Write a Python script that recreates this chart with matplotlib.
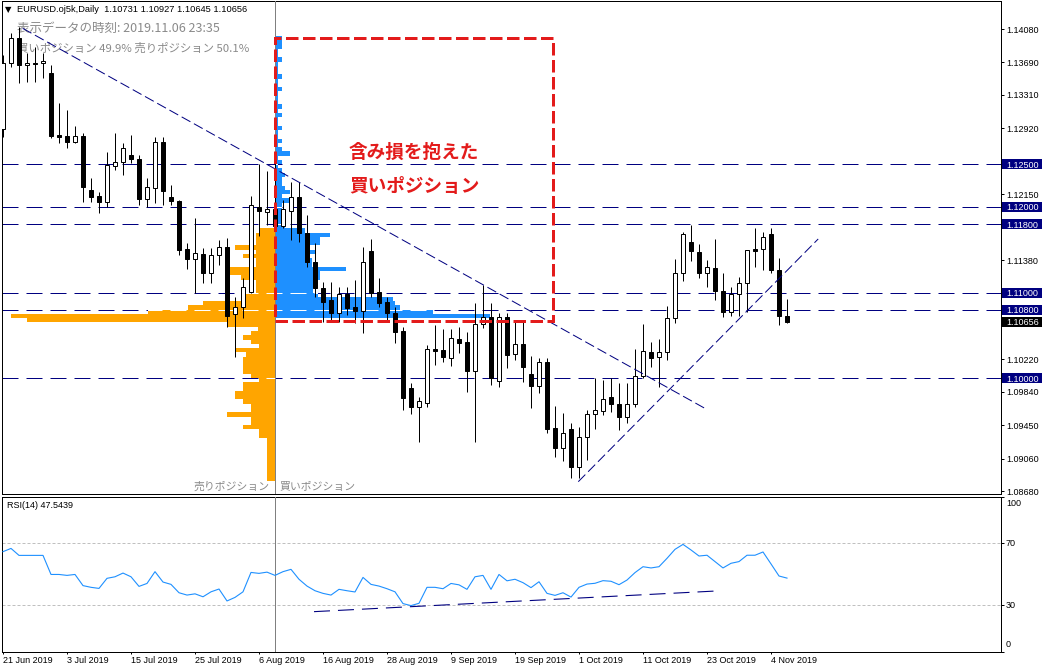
import numpy as np
import matplotlib
matplotlib.use("Agg")
import matplotlib.pyplot as plt
from matplotlib.patches import Rectangle
from matplotlib import transforms

plt.rcParams["font.family"] = ["Liberation Sans", "DejaVu Sans"]
plt.rcParams["lines.scale_dashes"] = False
plt.rcParams["axes.linewidth"] = 0.72

JP = ["Noto Sans CJK JP", "DejaVu Sans"]

# ---------------------------------------------------------------- data
date_labels = ["21 Jun 2019", "3 Jul 2019", "15 Jul 2019", "25 Jul 2019",
               "6 Aug 2019", "16 Aug 2019", "28 Aug 2019", "9 Sep 2019",
               "19 Sep 2019", "1 Oct 2019", "11 Oct 2019", "23 Oct 2019",
               "4 Nov 2019"]
date_index = [0, 8, 16, 24, 32, 40, 48, 56, 64, 72, 80, 88, 96]

opens = [1.12911, 1.13683, 1.13975, 1.13659, 1.13683, 1.13683, 1.13566, 1.12841, 1.12829, 1.12759,
         1.12829, 1.12198, 1.12128, 1.12058, 1.12479, 1.12525, 1.12607, 1.12561, 1.12093, 1.12222,
         1.12759, 1.12116, 1.12070, 1.11509, 1.11392, 1.11450, 1.11228, 1.11439, 1.11532, 1.10749,
         1.10831, 1.11006, 1.12000, 1.11941, 1.11976, 1.11777, 1.11953, 1.12116, 1.11696, 1.11357,
         1.11053, 1.10913, 1.10761, 1.10983, 1.10831, 1.10784, 1.11485, 1.11006, 1.10889, 1.10761,
         1.10550, 1.09884, 1.09662, 1.09709, 1.10340, 1.10328, 1.10235, 1.10457, 1.10422, 1.10083,
         1.10632, 1.10714, 1.09966, 1.10714, 1.10281, 1.10398, 1.10048, 1.09907, 1.10188, 1.09417,
         1.09183, 1.09405, 1.08961, 1.09311, 1.09580, 1.09615, 1.09779, 1.09697, 1.09545, 1.09697,
         1.10024, 1.10305, 1.10246, 1.10305, 1.10702, 1.11228, 1.11590, 1.11474, 1.11228, 1.11287,
         1.11018, 1.10773, 1.10983, 1.11111, 1.11509, 1.11509, 1.11684, 1.11263, 1.10731]
highs = [1.13776, 1.14033, 1.14103, 1.13799, 1.13870, 1.13799, 1.13659, 1.13215, 1.13133, 1.12946,
         1.12864, 1.12338, 1.12175, 1.12642, 1.12864, 1.12748, 1.12841, 1.12607, 1.12338, 1.12818,
         1.12818, 1.12257, 1.12081, 1.11579, 1.11871, 1.11520, 1.11520, 1.11614, 1.11637, 1.10948,
         1.11170, 1.12128, 1.12502, 1.12420, 1.12549, 1.12081, 1.12292, 1.12292, 1.11906, 1.11579,
         1.11123, 1.11123, 1.11065, 1.11065, 1.11147, 1.11532, 1.11626, 1.11170, 1.10948, 1.10831,
         1.10597, 1.09942, 1.09779, 1.10387, 1.10620, 1.10574, 1.10574, 1.10597, 1.10539, 1.10878,
         1.11088, 1.10878, 1.10761, 1.10761, 1.10679, 1.10679, 1.10258, 1.10235, 1.10235, 1.09674,
         1.09592, 1.09475, 1.09428, 1.09627, 1.10001, 1.09977, 1.10001, 1.09942, 1.09942, 1.10340,
         1.10632, 1.10422, 1.10457, 1.10843, 1.11392, 1.11707, 1.11789, 1.11567, 1.11380, 1.11626,
         1.11228, 1.11065, 1.11181, 1.11497, 1.11754, 1.11707, 1.11754, 1.11404, 1.10927]
lows = [1.12818, 1.13636, 1.13449, 1.13461, 1.13461, 1.13507, 1.12806, 1.12748, 1.12689, 1.12748,
        1.12058, 1.12058, 1.11929, 1.12000, 1.12432, 1.12374, 1.12514, 1.12023, 1.12000, 1.12046,
        1.12023, 1.12023, 1.11439, 1.11275, 1.10994, 1.11111, 1.11111, 1.11322, 1.10597, 1.10246,
        1.10702, 1.10994, 1.11661, 1.11789, 1.11766, 1.11754, 1.11614, 1.11590, 1.11298, 1.10948,
        1.10656, 1.10656, 1.10656, 1.10738, 1.10644, 1.10527, 1.10948, 1.10831, 1.10679, 1.10410,
        1.09627, 1.09580, 1.09253, 1.09662, 1.10153, 1.10188, 1.10141, 1.10293, 1.09837, 1.09253,
        1.10585, 1.09919, 1.09896, 1.10118, 1.10211, 1.09954, 1.09650, 1.09826, 1.09358, 1.09077,
        1.09031, 1.08832, 1.08832, 1.09042, 1.09405, 1.09569, 1.09604, 1.09393, 1.09475, 1.09662,
        1.10001, 1.10129, 1.09896, 1.10211, 1.10644, 1.11135, 1.11368, 1.11170, 1.11065, 1.10913,
        1.10714, 1.10726, 1.10726, 1.10773, 1.11298, 1.11263, 1.11228, 1.10620, 1.10645]
closes = [1.13683, 1.13975, 1.13659, 1.13683, 1.13671, 1.13706, 1.12829, 1.12818, 1.12759, 1.12829,
          1.12233, 1.12116, 1.12058, 1.12490, 1.12525, 1.12689, 1.12561, 1.12093, 1.12233, 1.12759,
          1.12187, 1.12070, 1.11497, 1.11392, 1.11462, 1.11228, 1.11439, 1.11532, 1.10726, 1.10831,
          1.11065, 1.12023, 1.11953, 1.11976, 1.11777, 1.11976, 1.12116, 1.11696, 1.11357, 1.11053,
          1.10889, 1.10761, 1.10983, 1.10819, 1.10784, 1.11357, 1.10994, 1.10878, 1.10761, 1.10539,
          1.09767, 1.09662, 1.09732, 1.10340, 1.10317, 1.10246, 1.10468, 1.10410, 1.10083, 1.10632,
          1.10714, 1.10001, 1.10714, 1.10270, 1.10398, 1.10129, 1.09907, 1.10188, 1.09405, 1.09183,
          1.09358, 1.08961, 1.09311, 1.09580, 1.09627, 1.09756, 1.09697, 1.09545, 1.09697, 1.10024,
          1.10317, 1.10235, 1.10305, 1.10702, 1.11228, 1.11684, 1.11485, 1.11228, 1.11298, 1.11018,
          1.10773, 1.10983, 1.11111, 1.11497, 1.11485, 1.11649, 1.11263, 1.10726, 1.10656]

rsi = [64.6, 66.7, 62.2, 62.2, 62.2, 62.2, 49.9, 49.9, 49.3, 49.9,
       42.7, 41.6, 40.9, 47.4, 48.4, 50.8, 48.4, 42.2, 44.1, 51.7,
       45.0, 43.5, 38.1, 36.6, 37.4, 35.5, 38.7, 40.5, 32.8, 35.1,
       38.7, 51.2, 50.6, 51.4, 49.3, 51.7, 53.2, 46.8, 42.4, 39.4,
       37.7, 36.6, 40.3, 39.4, 38.6, 48.0, 43.5, 42.4, 40.7, 38.7,
       31.1, 29.8, 31.3, 41.6, 41.6, 40.7, 44.1, 43.2, 40.3, 48.4,
       49.3, 40.3, 49.9, 45.8, 46.8, 44.6, 41.4, 45.2, 37.7, 36.4,
       38.1, 35.3, 41.6, 43.7, 44.2, 45.9, 45.5, 43.3, 46.3, 51.1,
       54.9, 54.1, 54.9, 60.3, 66.1, 69.3, 65.7, 61.8, 62.3, 58.2,
       54.1, 57.1, 58.2, 62.3, 62.3, 64.4, 56.7, 48.9, 47.5439]

price_ticks = [1.14080, 1.13690, 1.13310, 1.12920, 1.12150, 1.11760, 1.11380,
               1.10610, 1.10220, 1.09840, 1.09450, 1.09060, 1.08680]
level_lines = [1.12500, 1.12000, 1.11800, 1.11000, 1.10800, 1.10000]
last_price = 1.10656

# order book, 0.0005 price buckets, listed from the top bucket downwards (% of positions)
book_step = 0.0005
sell_top = 1.1170
sell_pct = [0.075, 0.095, 0.095, 0.095, 0.200, 0.095, 0.160, 0.095, 0.095, 0.225,
            0.225, 0.170, 0.095, 0.095, 0.095, 0.145, 0.145, 0.360, 0.435, 0.635,
            1.320, 1.240, 0.235, 0.085, 0.120, 0.160, 0.120, 0.080, 0.200, 0.145,
            0.160, 0.160, 0.160, 0.160, 0.120, 0.080, 0.160, 0.160, 0.200, 0.200,
            0.160, 0.120, 0.120, 0.240, 0.120, 0.120, 0.160, 0.080, 0.080, 0.040,
            0.040, 0.040, 0.040, 0.040, 0.040, 0.040, 0.040, 0.040, 0.040]
buy_top = 1.1395
buy_pct = [0.035, 0.035, 0.035, 0.015, 0.015, 0.035, 0.015, 0.015, 0.015, 0.035,
           0.015, 0.015, 0.035, 0.015, 0.015, 0.015, 0.035, 0.015, 0.035, 0.015,
           0.015, 0.035, 0.015, 0.015, 0.035, 0.015, 0.035, 0.075, 0.015, 0.035,
           0.015, 0.035, 0.050, 0.035, 0.035, 0.050, 0.075, 0.035, 0.075, 0.035,
           0.035, 0.035, 0.035, 0.035, 0.050, 0.150, 0.275, 0.225, 0.225, 0.175,
           0.200, 0.175, 0.185, 0.185, 0.355, 0.225, 0.225, 0.190, 0.190, 0.190,
           0.215, 0.590, 0.600, 0.625, 0.790, 1.075]

# trend lines: (bar index, price) anchor pairs
trend_down = [(2.46, 1.14088), (87.875, 1.09639)]
trend_up = [(71.91, 1.08789), (101.9, 1.11626)]
rsi_trend = [(38.875, 25.9), (89.05, 39.2)]
loss_zone = [(34.06, 1.10667), (68.71, 1.13971)]
book_bar = 33.94

# ---------------------------------------------------------------- layout helpers
W, H = 1042, 672
PT = 0.72          # points per pixel at 100 dpi
NAVY = "#000080"
RED = "#e31b1b"
GRAY_TXT = "#8a8a8a"
ORANGE = "#ffa500"
BLUE = "#1e90ff"
BOOK_SCALE = 25.0  # bar widths per 1 %
PX_PRICE = 0.00011688


def frect(x0, y0, x1, y1):
    return [x0 / W, 1 - y1 / H, (x1 - x0) / W, (y1 - y0) / H]


fig = plt.figure(figsize=(W / 100, H / 100), dpi=100)
ax = fig.add_axes(frect(1.5, 1, 1000.5, 494))
axr = fig.add_axes(frect(1.5, 496.8, 1000.5, 651.8), sharex=ax)

n = len(closes)
x = np.arange(n)
ax.set_xlim(-0.1875, 124.6875)
ax.set_ylim(1.086451, 1.144073)
axr.set_ylim(0, 100)


def axfrac(X, Y):
    return (X - 1.5) / 999.0, 1 - (Y - 1) / 493.0


# ---------------------------------------------------------------- order book
sell_levels = sell_top - book_step * np.arange(len(sell_pct))
buy_levels = buy_top - book_step * np.arange(len(buy_pct))
sell_w = np.array(sell_pct) * BOOK_SCALE
buy_w = np.array(buy_pct) * BOOK_SCALE
ax.barh(sell_levels, -sell_w, height=book_step, left=book_bar, align="edge",
        color=ORANGE, lw=0, zorder=2)
ax.barh(buy_levels, buy_w, height=book_step, left=book_bar, align="edge",
        color=BLUE, lw=0, zorder=2)

# horizontal price levels (white where they cross the book)
hdash = (16 * PT, 8 * PT)
for p in level_lines:
    ax.axhline(p, color=NAVY, lw=PT, dashes=hdash, zorder=1.5)
    lvl = round(p - book_step, 4)
    ws = sell_w[np.isclose(sell_levels, lvl)].sum()
    wb = buy_w[np.isclose(buy_levels, lvl)].sum()
    if ws + wb > 0:
        clip = Rectangle((book_bar - ws, p - book_step), ws + wb, 2 * book_step,
                         transform=ax.transData)
        wl = ax.axhline(p, color="white", lw=PT, dashes=hdash, zorder=2.5)
        wl.set_clip_path(clip)

ax.axvline(book_bar, color="#808080", lw=PT, zorder=2.6)
axr.axvline(book_bar, color="#808080", lw=PT, zorder=2.6)

# ---------------------------------------------------------------- candles
o = np.array(opens); h = np.array(highs); l = np.array(lows); c = np.array(closes)
ax.vlines(x, l, h, color="black", lw=PT, zorder=3)
up = c >= o
ax.bar(x[up], (c - o)[up], bottom=o[up], width=0.5, facecolor="white",
       edgecolor="black", lw=PT, zorder=3.1)
ax.bar(x[~up], (o - c)[~up], bottom=c[~up], width=0.5, facecolor="black",
       edgecolor="black", lw=PT, zorder=3.1)

# ---------------------------------------------------------------- trend lines and zone
for (x0, p0), (x1, p1) in (trend_down, trend_up):
    ax.plot([x0, x1], [p0, p1], color=NAVY, lw=PT, dashes=(10 * PT, 4 * PT), zorder=4)

(zx0, zp0), (zx1, zp1) = loss_zone
ax.add_patch(Rectangle((zx0, zp0), zx1 - zx0, zp1 - zp0, fill=False, edgecolor=RED,
                       lw=3 * PT, linestyle=(0, (12.5 * PT, 4.5 * PT)), zorder=5))
zc = (zx0 + zx1) / 2
ax.text(zc, 1.12642, "含み損を抱えた", family=JP, fontsize=13.4, fontweight="bold",
        color=RED, ha="center", va="center", zorder=6)
ax.text(zc, 1.12245, "買いポジション", family=JP, fontsize=13.4, fontweight="bold",
        color=RED, ha="center", va="center", zorder=6)

# ---------------------------------------------------------------- texts in the price pane
ax.text(*axfrac(5, 9.5), "▼", fontsize=6, transform=ax.transAxes, ha="left",
        va="center", family=["DejaVu Sans"], zorder=7)
ax.text(*axfrac(17, 9.5), "EURUSD.oj5k,Daily  1.10731 1.10927 1.10645 1.10656",
        fontsize=6.7, transform=ax.transAxes, ha="left", va="center", zorder=7)
ax.text(*axfrac(17, 28), "表示データの時刻: 2019.11.06 23:35", family=JP, fontsize=9,
        color=GRAY_TXT, transform=ax.transAxes, ha="left", va="center", zorder=2.8)
ax.text(*axfrac(17, 48), "買いポジション 49.9% 売りポジション 50.1%", family=JP, fontsize=8.2,
        color=GRAY_TXT, transform=ax.transAxes, ha="left", va="center", zorder=2.8)
ax.text(*axfrac(270, 487), "売りポジション", family=JP, fontsize=7.8, color=GRAY_TXT,
        transform=ax.transAxes, ha="right", va="center", zorder=2.8)
ax.text(*axfrac(279, 487), "買いポジション", family=JP, fontsize=7.8, color=GRAY_TXT,
        transform=ax.transAxes, ha="left", va="center", zorder=2.8)

# ---------------------------------------------------------------- price axis
covered = set(level_lines + [last_price])
ax.yaxis.tick_right()
ax.set_yticks(price_ticks)
ax.set_yticklabels(["" if any(abs(t - v) < 0.0006 for v in covered) else f"{t:.5f}"
                    for t in price_ticks])
ax.tick_params(axis="y", direction="out", length=3 * PT, width=PT, pad=2.5 * PT,
               labelsize=6.5, colors="black")
ax.tick_params(axis="x", bottom=False, labelbottom=False)

blend = transforms.blended_transform_factory(ax.transAxes, ax.transData)
box_x0 = (1002 - 1.5) / 999.0
box_w = 40 / 999.0
for p, fc in [(v, NAVY) for v in level_lines] + [(last_price, "black")]:
    ax.add_patch(Rectangle((box_x0, p - 5 * PX_PRICE), box_w, 10 * PX_PRICE,
                           transform=blend, facecolor=fc, edgecolor="none",
                           clip_on=False, zorder=8))
    ax.text((1006 - 1.5) / 999.0, p, f"{p:.5f}", transform=blend, color="white",
            fontsize=6.5, ha="left", va="center_baseline", clip_on=False, zorder=9)

# ---------------------------------------------------------------- RSI pane
axr.plot(x, rsi, color=BLUE, lw=0.8, zorder=3)
for lv in (70, 30):
    axr.axhline(lv, color="#c0c0c0", lw=PT, dashes=(3 * PT, 2 * PT), zorder=1)
(rx0, rv0), (rx1, rv1) = rsi_trend
axr.plot([rx0, rx1], [rv0, rv1], color=NAVY, lw=1.1 * PT, dashes=(16 * PT, 8 * PT), zorder=4)

axr.text(*((7 - 1.5) / 999.0, 1 - (505.5 - 496.8) / 155.0), f"RSI(14) {rsi[-1]:.4f}",
         transform=axr.transAxes, fontsize=6.5, ha="left", va="center")
rblend = transforms.blended_transform_factory(axr.transAxes, axr.transData)
for lab, yv in [("100", 95.6), ("70", 70), ("30", 30), ("0", 5.0)]:
    axr.text((1006 - 1.5) / 999.0, yv, lab, transform=rblend, fontsize=6.5,
             ha="left", va="center", clip_on=False)
axr.set_yticks([0, 30, 70, 100])
axr.yaxis.tick_right()
axr.tick_params(axis="y", direction="out", length=3 * PT, width=PT, labelright=False)

axr.set_xticks(date_index)
axr.set_xticklabels(date_labels)
for t in axr.get_xticklabels():
    t.set_ha("left")
axr.tick_params(axis="x", direction="out", length=2 * PT, width=PT, pad=2.5 * PT,
                labelsize=6.5)

for a in (ax, axr):
    for s in a.spines.values():
        s.set_color("black")
        s.set_linewidth(PT)

fig.savefig("out.png", dpi=100, facecolor="white")
